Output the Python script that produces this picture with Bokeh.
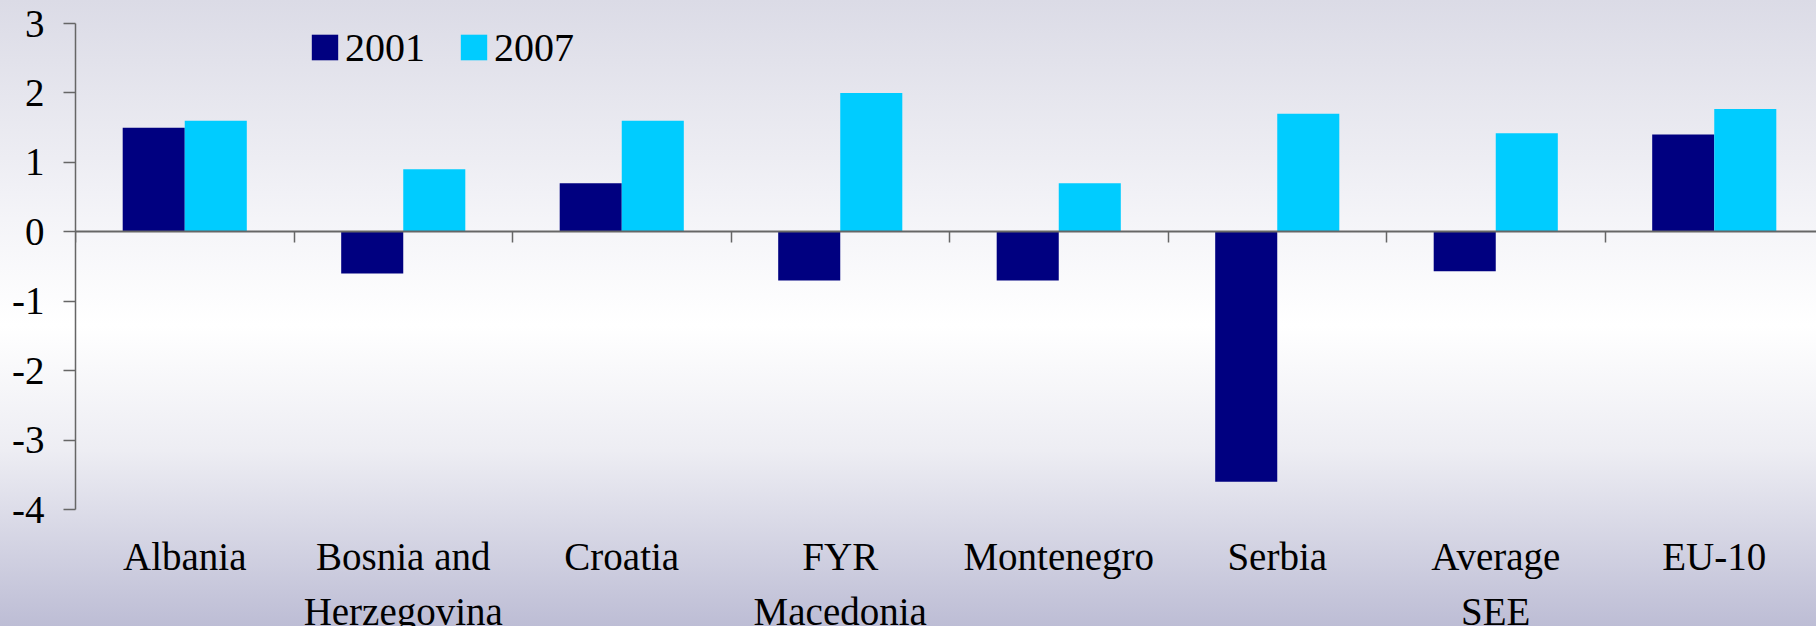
from bokeh.plotting import figure
from bokeh.models import (ColumnDataSource, Range1d, LinearAxis, FixedTicker,
                          Legend, LegendItem)
from bokeh.core.properties import value
from bokeh.transform import dodge
from bokeh.embed import file_html
from bokeh.resources import INLINE

# ---- data ----
categories = ["Albania", "Bosnia and\nHerzegovina", "Croatia", "FYR\nMacedonia",
              "Montenegro", "Serbia", "Average\nSEE", "EU-10"]
series_names = ["2001", "2007"]
values_2001 = [1.5, -0.6, 0.7, -0.7, -0.7, -3.6, -0.57, 1.40]
values_2007 = [1.6, 0.9, 1.6, 2.0, 0.7, 1.7, 1.42, 1.77]
y_ticks = [-4, -3, -2, -1, 0, 1, 2, 3]

FONT = "Liberation Serif"
FS = "39px"
NAVY = "#000080"
CYAN = "#00CCFF"
AXIS = "#666666"

W, H = 1816, 626
LEFT, TOP = 75, 23
AXIS_PX = 486            # pixel height of the value axis (-4 .. 3)
CAT_PX = 218.5           # pixel width of one category

centers = [i + 0.5 for i in range(len(categories))]
boundaries = list(range(len(categories) + 1))
src = ColumnDataSource(dict(x=centers, label=categories, v2001=values_2001, v2007=values_2007))

px_per_unit = AXIS_PX / (y_ticks[-1] - y_ticks[0])
y_start = y_ticks[0] - (H - TOP - AXIS_PX) / px_per_unit   # room for the category labels
x_end = (W - LEFT) / CAT_PX

p = figure(width=W, height=H, x_range=Range1d(0, x_end), y_range=Range1d(y_start, y_ticks[-1]),
           output_backend="svg", toolbar_location=None,
           x_axis_location=None, y_axis_location=None,
           min_border_left=LEFT, min_border_right=0, min_border_top=TOP, min_border_bottom=0)
p.grid.visible = False
p.outline_line_color = None
p.background_fill_color = None
p.border_fill_color = None
p.styles = {"background": "linear-gradient(to bottom, #dbdbe6 0%, #f4f4f8 35%, #ffffff 52%, #ededf3 72%, #bdbdd5 100%)"}

bw = 0.284
r1 = p.vbar(x=dodge("x", -bw / 2, range=p.x_range), top="v2001", bottom=0, width=bw,
            source=src, fill_color=NAVY, line_color=None)
r2 = p.vbar(x=dodge("x", bw / 2, range=p.x_range), top="v2007", bottom=0, width=bw,
            source=src, fill_color=CYAN, line_color=None)

# y axis (drawn only over -4 .. 3)
yax = LinearAxis(ticker=FixedTicker(ticks=y_ticks, minor_ticks=[]),
                 bounds=(y_ticks[0], y_ticks[-1]),
                 major_label_overrides={t: str(t) for t in y_ticks},
                 major_tick_out=12, major_tick_in=0, minor_tick_out=0, minor_tick_in=0,
                 major_label_standoff=19,
                 major_label_text_font=FONT, major_label_text_font_size=FS,
                 major_label_text_color="black",
                 axis_line_color=AXIS, axis_line_width=1.5,
                 major_tick_line_color=AXIS, major_tick_line_width=1.5)
p.add_layout(yax, "left")

# zero line with category boundary ticks
zax = LinearAxis(ticker=FixedTicker(ticks=boundaries, minor_ticks=[]), fixed_location=0,
                 major_label_overrides={b: "" for b in boundaries},
                 major_tick_out=11, major_tick_in=0, minor_tick_out=0, minor_tick_in=0,
                 major_label_text_color=None, major_label_standoff=0,
                 axis_line_color=AXIS, axis_line_width=2,
                 major_tick_line_color=AXIS, major_tick_line_width=1.5)
p.add_layout(zax, "below")

# category labels hung below the bottom of the value axis
p.text(x="x", y=y_ticks[0], text="label", source=src, y_offset=25,
       text_font=value(FONT), text_font_size=value(FS), text_color="black",
       text_align="center", text_baseline="top", text_line_height=1.3)

legend = Legend(items=[LegendItem(label=series_names[0], renderers=[r1]),
                       LegendItem(label=series_names[1], renderers=[r2])],
                orientation="horizontal", location=(233, H - TOP - 48 - 0),
                padding=0, margin=0, spacing=32, label_standoff=4,
                glyph_width=33, glyph_height=32, label_height=48,
                label_text_font=FONT, label_text_font_size="40px",
                label_text_color="black", label_text_baseline="middle",
                border_line_color=None, background_fill_alpha=0)
p.add_layout(legend)

open("out.html", "w").write(file_html(p, INLINE))
